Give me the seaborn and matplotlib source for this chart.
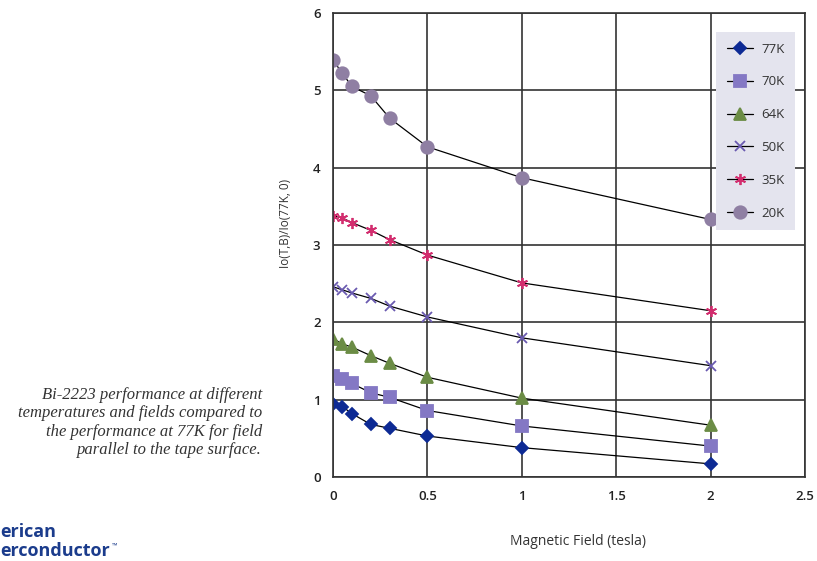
import matplotlib
matplotlib.use("Agg")
import matplotlib.pyplot as plt
import seaborn as sns

# field values (tesla) shared by all series
field = [0, 0.05, 0.1, 0.2, 0.3, 0.5, 1, 2]

# Io(T,B)/Io(77K,0)
k77 = [0.95, 0.91, 0.82, 0.68, 0.63, 0.53, 0.38, 0.17]
k70 = [1.30, 1.27, 1.21, 1.09, 1.03, 0.86, 0.66, 0.40]
k64 = [1.79, 1.72, 1.68, 1.57, 1.47, 1.29, 1.02, 0.67]
k50 = [2.46, 2.42, 2.38, 2.31, 2.21, 2.07, 1.80, 1.44]
k35 = [3.38, 3.35, 3.29, 3.19, 3.07, 2.87, 2.51, 2.15]
k20 = [5.39, 5.22, 5.05, 4.93, 4.64, 4.27, 3.87, 3.33]

labels = ["77K", "70K", "64K", "50K", "35K", "20K"]
series = [k77, k70, k64, k50, k35, k20]
colors = ["#0d2a94", "#8478c4", "#6b8c45", "#6a5ab0", "#d22d6e", "#8f7fa3"]
markers = ["D", "s", "^", "x", (6, 2, 0), "o"]
msizes = [6.5, 8, 8, 7, 8, 9]

sns.set_style("white")
plt.rcParams["font.family"] = ["Open Sans", "DejaVu Sans"]

fig = plt.figure(figsize=(8.17, 5.61), dpi=100)
ax = fig.add_axes([0.4076, 0.1497, 0.5777, 0.8271])

for lab, vals, c, m, ms in zip(labels, series, colors, markers, msizes):
    sns.lineplot(x=field, y=vals, ax=ax, color="black", lw=0.9, label=lab,
                 marker=m, markersize=ms, markerfacecolor=c,
                 markeredgecolor=c, markeredgewidth=1.3)

ax.set_xlim(0, 2.5)
ax.set_ylim(0, 6)
ax.set_xticks([0, 0.5, 1, 1.5, 2, 2.5])
ax.set_xticklabels(["0", "0.5", "1", "1.5", "2", "2.5"])
ax.set_yticks(range(7))
ax.grid(True, color="#333333", lw=1.2)
for s in ax.spines.values():
    s.set_color("#333333")
    s.set_linewidth(1.2)
ax.tick_params(length=0, labelsize=9.5, colors="#222222", pad=9)
for t in ax.get_xticklabels() + ax.get_yticklabels():
    t.set_fontweight("semibold")

ax.set_xlabel("Magnetic Field (tesla)", fontsize=10, color="#333333")
ax.set_ylabel("Io(T,B)/Io(77K, 0)", fontsize=8.5, color="#333333")
ax.xaxis.set_label_coords(0.519, -0.122)
ax.yaxis.set_label_coords(-0.0875, 0.547)

leg = ax.legend(loc="upper right", bbox_to_anchor=(0.979, 0.959), fontsize=9.5,
                labelspacing=1.5, handlelength=2.0, borderpad=0.8,
                borderaxespad=0, handletextpad=0.6, fancybox=False,
                frameon=True)
leg.get_frame().set_facecolor("#e4e4ee")
leg.get_frame().set_edgecolor("none")
leg.get_frame().set_alpha(1)
for t in leg.get_texts():
    t.set_color("#333333")

caption = ("Bi-2223 performance at different\n"
           "temperatures and fields compared to\n"
           "the performance at 77K for field\n"
           "parallel to the tape surface.")
fig.text(262 / 817, 1 - 387 / 561, caption, ha="right", va="top",
         family=["Liberation Serif"], style="italic", fontsize=12,
         color="#333333", linespacing=1.2)

# logo, cut off by the left edge in the original
fig.text(0, 1 - 532 / 561, "erican", ha="left", va="center",
         fontsize=13, fontweight="bold", color="#1b3c8c")
fig.text(0, 1 - 551 / 561, "erconductor", ha="left", va="center",
         fontsize=13, fontweight="bold", color="#1b3c8c")
fig.text(112 / 817, 1 - 546 / 561, "\u2122", ha="left", va="center",
         fontsize=5, color="#1b3c8c")

fig.savefig("out.png", dpi=100)
